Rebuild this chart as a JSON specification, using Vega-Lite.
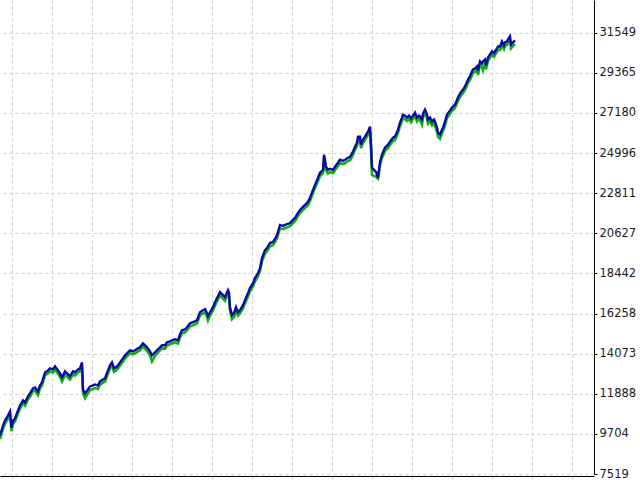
{
  "$schema": "https://vega.github.io/schema/vega-lite/v6.json",
  "width": 594,
  "height": 474,
  "autosize": {"type": "none"},
  "padding": {"top": 0, "left": 0, "right": 46, "bottom": 6},
  "background": "white",
  "config": {"view": {"stroke": null}},
  "data": {"values": [
    {"x":0,"b":9611,"e":9420},{"x":3,"b":10157,"e":9990},{"x":5,"b":10430,"e":10260},{"x":8,"b":10703,"e":10540},
    {"x":10,"b":10921,"e":10760},{"x":11.5,"b":10048,"e":9850},{"x":13,"b":10430,"e":10250},{"x":15,"b":10539,"e":10380},
    {"x":18,"b":10976,"e":10820},{"x":20,"b":11249,"e":11080},{"x":23,"b":11522,"e":11370},{"x":25,"b":11413,"e":11240},
    {"x":28,"b":11741,"e":11580},{"x":30,"b":11905,"e":11740},{"x":33,"b":12178,"e":12020},{"x":35,"b":12232,"e":12060},
    {"x":38,"b":12014,"e":11820},{"x":40,"b":12341,"e":12180},{"x":42,"b":12505,"e":12340},{"x":45,"b":13051,"e":12890},
    {"x":48,"b":13161,"e":13000},{"x":50,"b":13270,"e":13110},{"x":53,"b":13215,"e":13050},{"x":55,"b":13379,"e":13220},
    {"x":58,"b":13161,"e":12980},{"x":60,"b":12997,"e":12820},{"x":62,"b":12778,"e":12560},{"x":65,"b":13106,"e":12930},
    {"x":68,"b":12942,"e":12770},{"x":70,"b":12833,"e":12660},{"x":73,"b":13106,"e":12940},{"x":75,"b":13051,"e":12880},
    {"x":78,"b":13215,"e":13050},{"x":80,"b":13270,"e":13110},{"x":82,"b":13598,"e":13430},{"x":83,"b":12123,"e":11900},
    {"x":85,"b":11905,"e":11650},{"x":88,"b":12123,"e":11920},{"x":90,"b":12287,"e":12090},{"x":93,"b":12341,"e":12150},
    {"x":95,"b":12396,"e":12200},{"x":98,"b":12341,"e":12150},{"x":100,"b":12560,"e":12380},{"x":103,"b":12669,"e":12490},
    {"x":105,"b":12724,"e":12550},{"x":108,"b":13161,"e":12990},{"x":110,"b":13434,"e":13260},{"x":112,"b":13598,"e":13430},
    {"x":114,"b":13270,"e":13080},{"x":116,"b":13324,"e":13140},{"x":118,"b":13434,"e":13260},{"x":120,"b":13598,"e":13430},
    {"x":123,"b":13816,"e":13650},{"x":125,"b":13980,"e":13810},{"x":128,"b":14144,"e":13980},{"x":130,"b":14253,"e":14090},
    {"x":133,"b":14198,"e":14030},{"x":135,"b":14253,"e":14090},{"x":138,"b":14362,"e":14200},{"x":140,"b":14417,"e":14250},
    {"x":143,"b":14635,"e":14470},{"x":145,"b":14526,"e":14350},{"x":147,"b":14417,"e":14230},{"x":150,"b":14198,"e":13990},
    {"x":152,"b":13980,"e":13650},{"x":155,"b":14144,"e":13950},{"x":157,"b":14253,"e":14080},{"x":160,"b":14417,"e":14250},
    {"x":162,"b":14526,"e":14360},{"x":165,"b":14526,"e":14350},{"x":167,"b":14690,"e":14520},{"x":170,"b":14745,"e":14580},
    {"x":172,"b":14799,"e":14630},{"x":175,"b":14854,"e":14690},{"x":178,"b":14799,"e":14620},{"x":180,"b":15127,"e":14960},
    {"x":182,"b":15345,"e":15180},{"x":185,"b":15400,"e":15230},{"x":187,"b":15509,"e":15340},{"x":190,"b":15728,"e":15560},
    {"x":193,"b":15782,"e":15610},{"x":195,"b":15837,"e":15670},{"x":197,"b":15891,"e":15720},{"x":200,"b":16328,"e":16160},
    {"x":203,"b":16437,"e":16270},{"x":205,"b":16492,"e":16320},{"x":207,"b":16274,"e":16080},{"x":208,"b":16110,"e":15880},
    {"x":210,"b":16328,"e":16150},{"x":213,"b":16601,"e":16430},{"x":215,"b":16874,"e":16700},{"x":217,"b":17093,"e":16920},
    {"x":220,"b":17421,"e":17250},{"x":222,"b":17311,"e":17130},{"x":225,"b":17147,"e":16960},{"x":227,"b":17421,"e":17250},
    {"x":228,"b":17530,"e":17360},{"x":229,"b":17366,"e":17180},{"x":230,"b":16601,"e":16400},{"x":232,"b":16164,"e":15950},
    {"x":234,"b":16274,"e":16060},{"x":236,"b":16601,"e":16420},{"x":238,"b":16328,"e":16140},{"x":240,"b":16437,"e":16260},
    {"x":243,"b":16711,"e":16540},{"x":245,"b":16984,"e":16810},{"x":248,"b":17366,"e":17190},{"x":250,"b":17639,"e":17470},
    {"x":253,"b":17912,"e":17740},{"x":255,"b":18185,"e":18010},{"x":258,"b":18458,"e":18290},{"x":260,"b":18731,"e":18560},
    {"x":262,"b":19277,"e":19100},{"x":265,"b":19714,"e":19540},{"x":267,"b":19824,"e":19650},{"x":270,"b":20097,"e":19920},
    {"x":273,"b":20151,"e":19980},{"x":275,"b":20315,"e":20140},{"x":277,"b":20534,"e":20360},{"x":280,"b":21080,"e":20900},
    {"x":283,"b":21025,"e":20850},{"x":285,"b":21080,"e":20900},{"x":288,"b":21134,"e":20960},{"x":290,"b":21189,"e":21010},
    {"x":293,"b":21353,"e":21180},{"x":295,"b":21462,"e":21290},{"x":298,"b":21735,"e":21560},{"x":300,"b":21899,"e":21720},
    {"x":303,"b":22063,"e":21890},{"x":305,"b":22172,"e":22000},{"x":308,"b":22336,"e":22160},{"x":310,"b":22554,"e":22380},
    {"x":313,"b":22991,"e":22820},{"x":315,"b":23264,"e":23090},{"x":318,"b":23647,"e":23470},{"x":320,"b":23920,"e":23750},
    {"x":322,"b":24029,"e":23850},{"x":323,"b":24084,"e":23900},{"x":324,"b":24903,"e":24700},{"x":325,"b":24630,"e":24420},
    {"x":326,"b":24247,"e":24050},{"x":328,"b":24084,"e":23880},{"x":330,"b":24138,"e":23960},{"x":333,"b":24084,"e":23900},
    {"x":335,"b":24247,"e":24070},{"x":338,"b":24466,"e":24290},{"x":340,"b":24630,"e":24450},{"x":343,"b":24575,"e":24390},
    {"x":345,"b":24630,"e":24450},{"x":348,"b":24739,"e":24560},{"x":350,"b":24794,"e":24610},{"x":353,"b":25067,"e":24890},
    {"x":355,"b":25340,"e":25160},{"x":357,"b":25558,"e":25380},{"x":358,"b":25886,"e":25700},{"x":360,"b":25886,"e":25690},
    {"x":361,"b":25449,"e":25260},{"x":363,"b":25722,"e":25540},{"x":365,"b":25886,"e":25700},{"x":368,"b":26159,"e":25980},
    {"x":370,"b":26432,"e":26250},{"x":371,"b":25449,"e":25200},{"x":372,"b":24193,"e":23800},{"x":374,"b":24084,"e":23750},
    {"x":376,"b":23974,"e":23700},{"x":378,"b":23647,"e":23600},{"x":379,"b":24084,"e":23900},{"x":380,"b":24520,"e":24330},
    {"x":382,"b":24903,"e":24720},{"x":385,"b":25285,"e":25100},{"x":388,"b":25449,"e":25270},{"x":390,"b":25613,"e":25430},
    {"x":393,"b":25831,"e":25650},{"x":395,"b":25886,"e":25700},{"x":398,"b":26268,"e":26090},{"x":400,"b":26650,"e":26470},
    {"x":402,"b":26924,"e":26740},{"x":403,"b":27087,"e":26900},{"x":405,"b":27033,"e":26840},{"x":407,"b":26924,"e":26740},
    {"x":409,"b":27033,"e":26850},{"x":411,"b":26869,"e":26680},{"x":413,"b":27033,"e":26850},{"x":415,"b":27197,"e":27010},
    {"x":417,"b":26924,"e":26720},{"x":419,"b":27033,"e":26850},{"x":420,"b":26978,"e":26790},{"x":422,"b":26814,"e":26550},
    {"x":423,"b":27142,"e":26950},{"x":425,"b":27360,"e":27170},{"x":427,"b":27087,"e":26880},{"x":428,"b":26814,"e":26600},
    {"x":430,"b":26924,"e":26730},{"x":432,"b":26705,"e":26500},{"x":434,"b":26814,"e":26620},{"x":435,"b":26705,"e":26500},
    {"x":437,"b":26377,"e":26150},{"x":438,"b":26104,"e":25880},{"x":440,"b":25995,"e":25780},{"x":442,"b":26268,"e":26080},
    {"x":443,"b":26377,"e":26190},{"x":445,"b":26705,"e":26520},{"x":447,"b":27087,"e":26900},{"x":450,"b":27306,"e":27120},
    {"x":452,"b":27470,"e":27290},{"x":455,"b":27633,"e":27450},{"x":458,"b":28016,"e":27830},{"x":460,"b":28234,"e":28050},
    {"x":463,"b":28453,"e":28270},{"x":465,"b":28617,"e":28430},{"x":468,"b":28999,"e":28810},{"x":470,"b":29163,"e":28980},
    {"x":472,"b":29436,"e":29250},{"x":473,"b":29545,"e":29360},{"x":475,"b":29599,"e":29410},{"x":477,"b":29709,"e":29520},
    {"x":478,"b":29490,"e":29250},{"x":480,"b":29982,"e":29790},{"x":482,"b":29873,"e":29680},{"x":483,"b":29982,"e":29500},
    {"x":485,"b":30091,"e":29900},{"x":486,"b":29764,"e":29550},{"x":488,"b":30200,"e":30010},{"x":490,"b":30364,"e":30180},
    {"x":492,"b":30528,"e":30340},{"x":494,"b":30419,"e":30230},{"x":495,"b":30528,"e":30340},{"x":497,"b":30692,"e":30500},
    {"x":498,"b":30801,"e":30610},{"x":500,"b":30801,"e":30610},{"x":502,"b":31074,"e":30880},{"x":504,"b":30856,"e":30660},
    {"x":505,"b":31020,"e":30830},{"x":507,"b":31074,"e":30880},{"x":508,"b":31183,"e":30990},{"x":510,"b":31347,"e":31150},
    {"x":511,"b":30910,"e":30700},{"x":513,"b":31020,"e":30830},{"x":515,"b":31129,"e":30940}
  ]},
  "encoding": {
    "x": {
      "field": "x", "type": "quantitative",
      "scale": {"domain": [0, 594], "nice": false, "zero": false},
      "axis": {
        "orient": "bottom", "title": null, "labels": false, "offset": 2,
        "values": [12, 52, 92, 132, 172, 212, 252, 292, 332, 372, 412, 452, 492, 532, 572],
        "domain": true, "domainColor": "#000000", "domainWidth": 1,
        "ticks": true, "tickSize": 6, "tickColor": "#cfcfcf", "tickDash": [3, 3],
        "grid": true, "gridColor": "#cfcfcf", "gridDash": [3, 3], "gridWidth": 1
      }
    }
  },
  "layer": [
    {
      "mark": {"type": "line", "color": "#10b010", "strokeWidth": 2.6, "interpolate": "linear"},
      "encoding": {
        "y": {
          "field": "e", "type": "quantitative",
          "scale": {"domain": [7519, 33329], "nice": false, "zero": false},
          "axis": {
            "orient": "right", "title": null,
            "values": [7519, 9704, 11888, 14073, 16258, 18442, 20627, 22811, 24996, 27180, 29365, 31549],
            "format": "d",
            "domain": true, "domainColor": "#000000", "domainWidth": 1,
            "ticks": true, "tickSize": 3, "tickColor": "#000000",
            "labelPadding": 2, "labelFont": "DejaVu Sans", "labelFontSize": 11.5, "labelColor": "#1a1a1a",
            "grid": true, "gridColor": "#cfcfcf", "gridDash": [3, 3], "gridWidth": 1
          }
        }
      }
    },
    {
      "mark": {"type": "line", "color": "#0a0aa6", "strokeWidth": 2.4, "interpolate": "linear"},
      "encoding": {
        "y": {"field": "b", "type": "quantitative"}
      }
    },
    {
      "mark": {"type": "rule", "color": "#000000", "strokeWidth": 1},
      "encoding": {"y": {"datum": 7519}}
    }
  ]
}
